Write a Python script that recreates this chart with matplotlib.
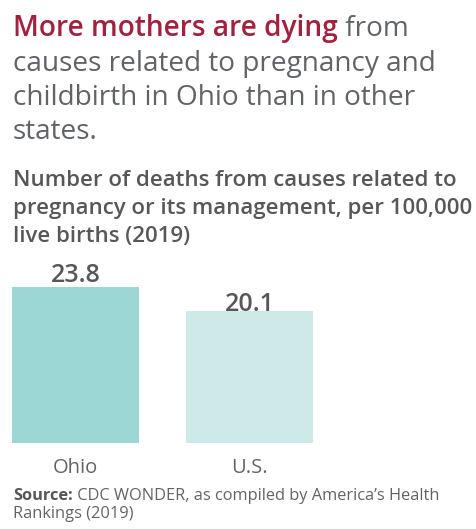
import matplotlib
matplotlib.use("Agg")
import matplotlib.pyplot as plt

# data
places = ["Ohio", "U.S."]
deaths = [23.8, 20.1]
bar_colors = ["#9dd7d5", "#cde9e8"]
label_offsets = [5, 0]  # px above bar top

W, H = 477, 529
plt.rcParams['font.family'] = ['Open Sans', 'DejaVu Sans']

fig = plt.figure(figsize=(W / 100, H / 100), dpi=100)
fig.patch.set_facecolor("white")

def fy(py):
    return 1 - py / H

def fx(px):
    return px / W

RED = "#a2213f"
GRAY = "#606469"
DARK = "#555759"

# headline, first line mixed bold/colour
fig.canvas.draw()
r = fig.canvas.get_renderer()
t1 = fig.text(fx(13), fy(36), "More mothers are dying", color=RED, fontsize=20.2,
              fontweight="semibold", va="baseline")
bb = t1.get_window_extent(renderer=r)
fig.text(bb.x1 / W, fy(36), " from", color=GRAY, fontsize=20.2, va="baseline")
for i, line in enumerate(["causes related to pregnancy and",
                          "childbirth in Ohio than in other",
                          "states."]):
    fig.text(fx(13), fy(71 + 34 * i), line, color=GRAY, fontsize=20.2, va="baseline")

# subtitle
for i, line in enumerate(["Number of deaths from causes related to",
                          "pregnancy or its management, per 100,000",
                          "live births (2019)"]):
    fig.text(fx(13), fy(186 + 28 * i), line, color=DARK, fontsize=16,
             fontweight="semibold", va="baseline")

# bars
ax = fig.add_axes([0, fy(443), 1, (443 - 255) / H])
x = list(range(len(places)))
ax.bar(x, deaths, width=127 / 174, color=bar_colors)
ax.set_xlim(-75.5 / 174, (W - 75.5) / 174)
ax.set_ylim(0, 188 / (156 / 23.8))
ax.axis("off")

for xi, v, off in zip(x, deaths, label_offsets):
    ax.annotate(f"{v}", (xi, v), xytext=(0, off), textcoords="offset pixels",
                ha="center", va="baseline", fontsize=18, fontweight="semibold", color=DARK)
    ax.annotate(places[xi], (xi, 0), xytext=(0, -30), textcoords="offset pixels",
                ha="center", va="baseline", fontsize=14.5, color=GRAY)

# source
t2 = fig.text(fx(13), fy(500), "Source:", color=DARK, fontsize=11.8,
              fontweight="bold", va="baseline")
bb2 = t2.get_window_extent(renderer=r)
fig.text(bb2.x1 / W, fy(500), " CDC WONDER, as compiled by America\u2019s Health",
         color=GRAY, fontsize=11.8, va="baseline")
fig.text(fx(13), fy(518), "Rankings (2019)", color=GRAY, fontsize=11.8, va="baseline")

fig.savefig("out.png", dpi=100)
